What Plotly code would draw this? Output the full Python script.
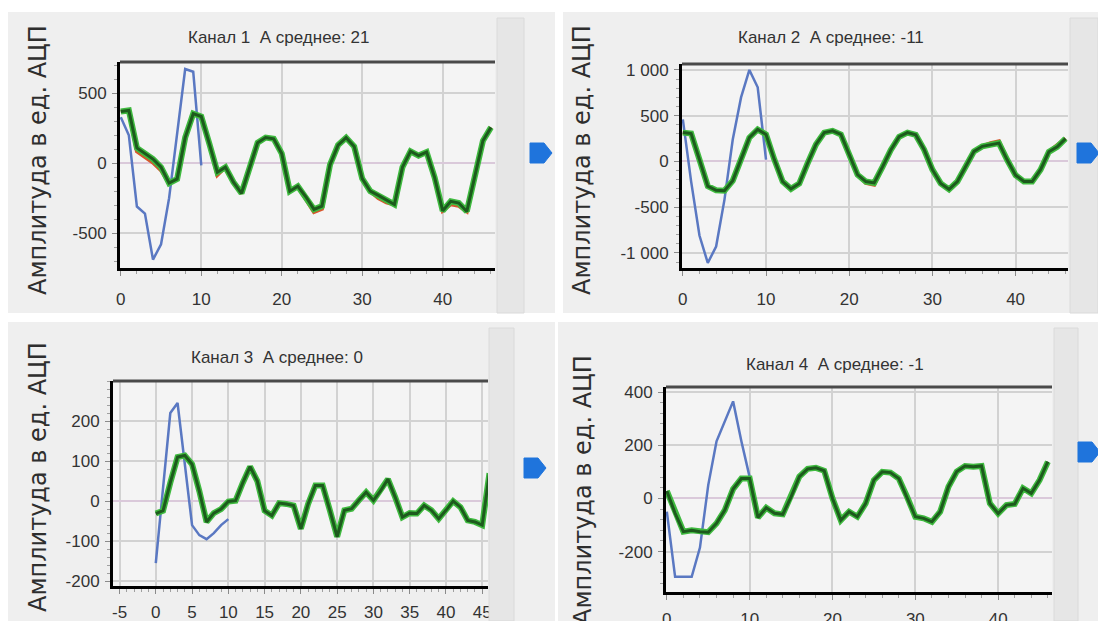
import plotly.graph_objects as go

W, H = 1098, 621
FONT = "Liberation Sans, Arial, sans-serif"

# ---------------- data ----------------
x_long = list(range(47))
x_short = list(range(11))

ch1_blue = [330, 200, -310, -360, -690, -580, -250, 200, 675, 655, -15]
ch1_red = [370, 378, 85, 45, 5, -50, -142, -112, 184, 355, 335, 140, -84, -28, -136, -215,
           -40, 147, 184, 175, 69, -200, -165, -260, -350, -327, -10, 130, 183, 120, -110,
           -200, -250, -280, -295, -28, 86, 55, 80, -103, -340, -293, -305, -345, -103, 161, 257]
ch1_green = [370, 378, 110, 70, 30, -28, -142, -112, 184, 355, 335, 140, -64, -28, -136, -215,
             -40, 147, 184, 175, 69, -200, -165, -240, -330, -307, -10, 130, 183, 120, -110,
             -200, -230, -260, -295, -28, 86, 55, 80, -103, -340, -273, -285, -345, -103, 161, 257]

ch2_blue = [460, -220, -810, -1110, -930, -420, 240, 700, 1000, 810, 20]
ch2_red = [315, 305, 20, -270, -315, -320, -210, 15, 260, 350, 295, 20, -220, -300, -240, -20,
           185, 315, 335, 295, 75, -145, -235, -255, -60, 125, 270, 315, 290, 130, -90, -240,
           -305, -220, -55, 110, 165, 200, 220, 15, -150, -220, -220, -90, 105, 175, 250]
ch2_green = [315, 305, 20, -270, -315, -320, -210, 15, 260, 350, 295, 20, -220, -300, -240, -20,
             185, 315, 335, 295, 75, -145, -220, -235, -60, 125, 270, 315, 290, 130, -90, -240,
             -305, -220, -55, 110, 165, 180, 200, 15, -150, -220, -220, -90, 105, 160, 250]

ch3_blue = [-155, 30, 220, 245, 90, -60, -85, -95, -80, -60, -45]
ch3_green = [-31, -24, 46, 110, 114, 92, 25, -52, -30, -20, -1, 1, 46, 86, 50, -24, -36, -5, -7,
             -11, -69, -7, 39, 39, -23, -89, -23, -19, 2, 22, 2, 26, 55, 10, -40, -30, -31, -11,
             -23, -44, -23, 0, -15, -48, -52, -60, 70]

ch4_blue = [-50, -295, -295, -295, -185, 50, 215, 290, 365, 215, 80]
ch4_green = [28, -56, -125, -120, -125, -127, -94, -44, 35, 75, 75, -72, -35, -56, -60, 6, 82,
             111, 115, 104, 0, -82, -50, -69, -19, 69, 100, 97, 75, 6, -69, -75, -88, -50, 44,
             101, 122, 119, 122, -19, -57, -25, -21, 38, 19, 69, 138]

titles = ["Канал 1\u00a0 А среднее: 21", "Канал 2\u00a0 А среднее: -11",
          "Канал 3\u00a0 А среднее: 0", "Канал 4\u00a0 А среднее: -1"]
y_title = "Амплитуда в ед. АЦП"

x_ticks_a = [0, 10, 20, 30, 40]
x_ticks_b = [-5, 0, 5, 10, 15, 20, 25, 30, 35, 40, 45]

y_ticks_1 = [-500, 0, 500]
y_text_1 = ["-500", "0", "500"]
y_ticks_2 = [-1000, -500, 0, 500, 1000]
y_text_2 = ["-1 000", "-500", "0", "500", "1 000"]
y_ticks_3 = [-200, -100, 0, 100, 200]
y_text_3 = ["-200", "-100", "0", "100", "200"]
y_ticks_4 = [-200, 0, 200, 400]
y_text_4 = ["-200", "0", "200", "400"]

channels = [
    dict(blue=ch1_blue, red=ch1_red, green=ch1_green, xt=x_ticks_a, yt=y_ticks_1, ytt=y_text_1),
    dict(blue=ch2_blue, red=ch2_red, green=ch2_green, xt=x_ticks_a, yt=y_ticks_2, ytt=y_text_2),
    dict(blue=ch3_blue, red=None, green=ch3_green, xt=x_ticks_b, yt=y_ticks_3, ytt=y_text_3),
    dict(blue=ch4_blue, red=None, green=ch4_green, xt=x_ticks_a, yt=y_ticks_4, ytt=y_text_4),
]

# ---------------- layout geometry (pixels) ----------------
panels = [
    dict(plot=(120, 495, 62, 268), bg=(8, 555, 12, 313), xr=[-0.1, 46.5], yr=[-750, 725],
         xminor=2, yminor=100, title=(278, 37), ytitle=(38, 160), bar=(497, 524),
         marker=(530, 153), xstand=9),
    dict(plot=(682, 1068, 64, 268), bg=(563, 1098, 12, 313), xr=[-0.1, 46.3], yr=[-1165, 1065],
         xminor=2, yminor=100, title=(831, 37), ytitle=(582, 160), bar=(1070, 1098),
         marker=(1077, 153), xstand=9),
    dict(plot=(113, 488, 381, 586), bg=(8, 555, 322, 621), xr=[-5.9, 45.8], yr=[-212, 300],
         xminor=1, yminor=20, title=(277, 357), ytitle=(38, 477), bar=(489, 514),
         marker=(524, 468), xstand=4),
    dict(plot=(666, 1052, 387, 592), bg=(558, 1098, 322, 621), xr=[-0.1, 46.5], yr=[-352, 419],
         xminor=2, yminor=40, title=(835, 364), ytitle=(583, 490), bar=(1054, 1078),
         marker=(1078, 452), xstand=5),
]


def px(v):
    return v / W


def py(v):
    return 1 - v / H


fig = go.Figure()
shapes = []
annotations = []
layout_axes = {}

for i, (ch, pn) in enumerate(zip(channels, panels), start=1):
    xa = "x" if i == 1 else f"x{i}"
    ya = "y" if i == 1 else f"y{i}"
    l, r, t, b = pn["plot"]

    fig.add_trace(go.Scatter(x=x_short, y=ch["blue"], xaxis=xa, yaxis=ya, mode="lines",
                             line=dict(color="#5a78c2", width=2.5), hoverinfo="skip"))
    if ch["red"] is not None:
        fig.add_trace(go.Scatter(x=x_long, y=ch["red"], xaxis=xa, yaxis=ya, mode="lines",
                                 line=dict(color="#d8562c", width=4), hoverinfo="skip"))
    fig.add_trace(go.Scatter(x=x_long, y=ch["green"], xaxis=xa, yaxis=ya, mode="lines",
                             line=dict(color="#3fba3f", width=6), hoverinfo="skip"))
    fig.add_trace(go.Scatter(x=x_long, y=ch["green"], xaxis=xa, yaxis=ya, mode="lines",
                             line=dict(color="#1d5a1d", width=3), hoverinfo="skip"))

    key_x = "xaxis" if i == 1 else f"xaxis{i}"
    key_y = "yaxis" if i == 1 else f"yaxis{i}"
    layout_axes[key_x] = dict(
        domain=[px(l), px(r)], anchor=ya, range=pn["xr"], tickmode="array",
        tickvals=ch["xt"], ticktext=[str(v) for v in ch["xt"]], automargin=False,
        showgrid=True, gridcolor="#d2d2d2", gridwidth=2, zeroline=False,
        showline=True, linecolor="#000000", linewidth=3,
        ticks="outside", ticklen=5, tickwidth=1, tickcolor="#8a8a8a",
        minor=dict(dtick=pn["xminor"], tick0=0, ticks="outside", ticklen=3, tickcolor="#a0a0a0",
                   showgrid=False),
        tickfont=dict(family=FONT, size=17, color="#333333"), ticklabelstandoff=pn["xstand"],
        fixedrange=True,
    )
    layout_axes[key_y] = dict(
        domain=[py(b), py(t)], anchor=xa, range=pn["yr"], tickmode="array",
        tickvals=ch["yt"], ticktext=ch["ytt"], automargin=False,
        showgrid=True, gridcolor="#d2d2d2", gridwidth=2,
        zeroline=True, zerolinecolor="#dac9da", zerolinewidth=2,
        showline=True, linecolor="#000000", linewidth=3,
        ticks="outside", ticklen=5, tickwidth=1, tickcolor="#8a8a8a",
        minor=dict(dtick=pn["yminor"], tick0=0, ticks="outside", ticklen=3, tickcolor="#a0a0a0",
                   showgrid=False),
        tickfont=dict(family=FONT, size=17, color="#333333"), ticklabelstandoff=2,
        fixedrange=True,
    )

    # panel background and plot background
    bl, br, bt, bb = pn["bg"]
    shapes.append(dict(type="rect", xref="paper", yref="paper", x0=px(bl), x1=px(br),
                       y0=py(bb), y1=py(bt), fillcolor="#efefef", line=dict(width=0), layer="below"))
    shapes.append(dict(type="rect", xref="paper", yref="paper", x0=px(l), x1=px(r),
                       y0=py(b), y1=py(t), fillcolor="#f4f4f4", line=dict(width=0), layer="below"))
    # top border
    shapes.append(dict(type="line", xref="paper", yref="paper", x0=px(l), x1=px(r),
                       y0=py(t), y1=py(t), line=dict(color="#4a4a4a", width=3), layer="above"))
    # right strip
    s0, s1 = pn["bar"]
    shapes.append(dict(type="rect", xref="paper", yref="paper", x0=px(s0), x1=px(s1),
                       y0=py(bb), y1=py(bt + 6), fillcolor="#e6e6e6",
                       line=dict(color="#dadada", width=1), layer="above"))
    # blue marker
    mx, my = pn["marker"]
    path = (f"M {px(mx)} {py(my - 10)} L {px(mx + 14)} {py(my - 10)} L {px(mx + 22)} {py(my)} "
            f"L {px(mx + 14)} {py(my + 10)} L {px(mx)} {py(my + 10)} Z")
    shapes.append(dict(type="path", xref="paper", yref="paper", path=path,
                       fillcolor="#1f74dc", line=dict(color="#1f74dc", width=1), layer="above"))

    tx, ty = pn["title"]
    annotations.append(dict(text=titles[i - 1], xref="paper", yref="paper", x=px(tx), y=py(ty),
                            xanchor="center", yanchor="middle", showarrow=False,
                            font=dict(family=FONT, size=17, color="#333333")))
    yx, yy = pn["ytitle"]
    annotations.append(dict(text=y_title, xref="paper", yref="paper", x=px(yx), y=py(yy),
                            xanchor="center", yanchor="middle", showarrow=False, textangle=-90,
                            font=dict(family="DejaVu Sans, sans-serif", size=24, color="#2e2e2e")))

fig.update_layout(
    width=W, height=H, margin=dict(l=0, r=0, t=0, b=0, autoexpand=False),
    paper_bgcolor="#ffffff", plot_bgcolor="rgba(0,0,0,0)",
    showlegend=False, hovermode=False,
    shapes=shapes, annotations=annotations,
    **layout_axes,
)

fig.write_html("out.html", config={"displayModeBar": False})
